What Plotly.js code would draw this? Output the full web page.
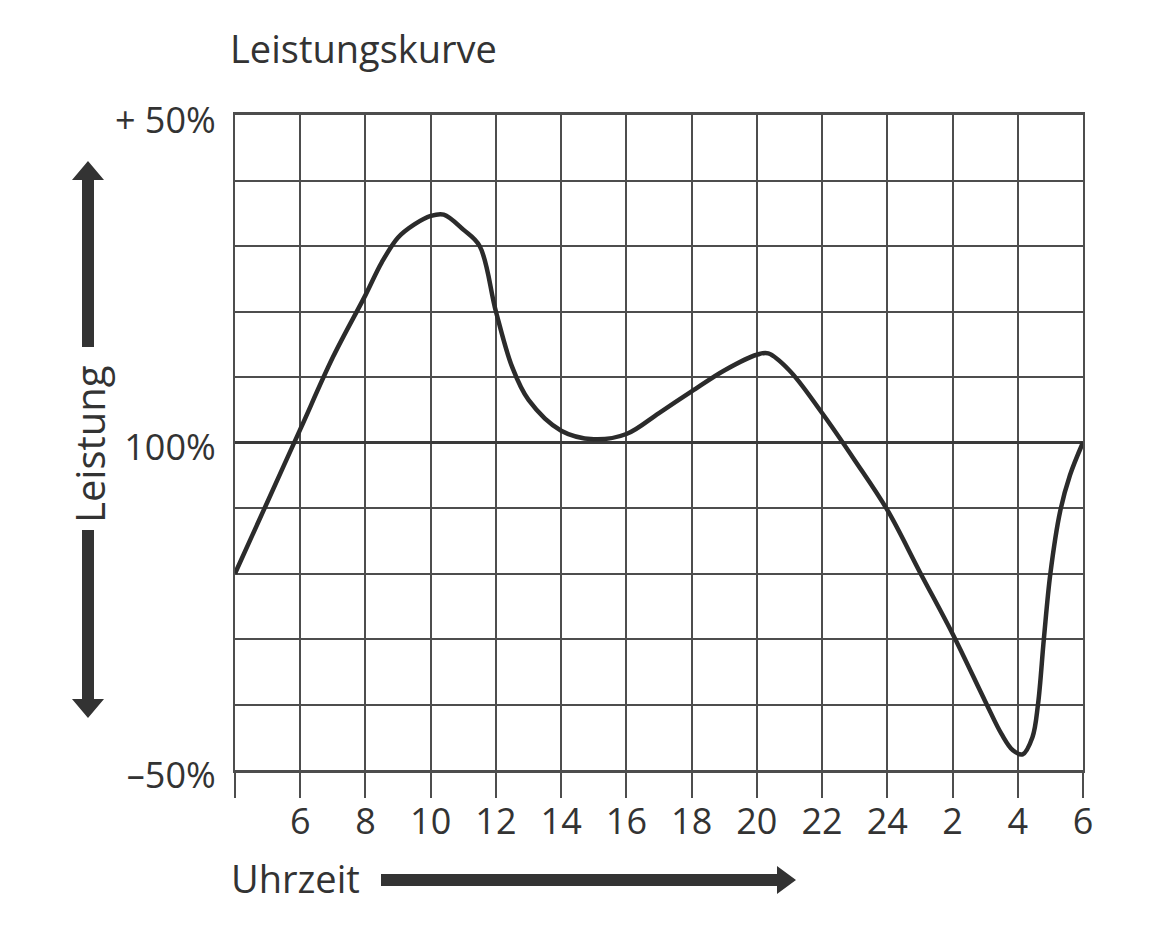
<!DOCTYPE html>
<html><head><meta charset="utf-8">
<script src="https://cdn.plot.ly/plotly-3.0.1.min.js"></script>
<style>html,body{margin:0;padding:0;background:#fff}</style>
</head><body><div id="chart" style="width:1150px;height:933px"></div>
<script>
// Uhrzeit (Stunden, fortlaufend ab 4 Uhr; Werte über 24 = nächster Tag)
const hours = [4, 5, 6, 7, 8, 8.5, 9, 9.5, 10, 10.4, 11, 11.5, 12, 12.5, 13, 14, 15, 16, 17, 18, 19, 20, 20.35, 21, 22, 23, 24, 25, 26, 27, 27.5, 27.85, 28.15, 28.45, 28.62, 28.8, 29, 29.3, 29.6, 30];
// Leistung relativ zu 100 % (Prozentpunkte)
const leistung = [-20, -9, 2, 13, 22.5, 27.5, 31.3, 33.3, 34.6, 34.8, 32.5, 30, 20, 11.5, 6.5, 1.8, 0.5, 1.3, 4.5, 7.8, 11, 13.4, 13.6, 11, 4.5, -2.7, -10.3, -19.8, -29.2, -39.5, -44.5, -47, -47.6, -45, -40, -30, -20, -10.5, -5, 0];

const xTickVals = [4, 6, 8, 10, 12, 14, 16, 18, 20, 22, 24, 26, 28, 30];
const xTickText = ['', '6', '8', '10', '12', '14', '16', '18', '20', '22', '24', '2', '4', '6'];
const yTickVals = [-50, -40, -30, -20, -10, 0, 10, 20, 30, 40, 50];
const yTickText = ['–50%', '', '', '', '', '100%', '', '', '', '', '+ 50%'];

const FONT = '"Open Sans", Lato, sans-serif';
const INK = '#333333';
const GRID = '#4d4d4d';

// plot area in pixels
const L = 235, R = 1083, T = 115, B = 770;
const px = x => (x - L) / (R - L);
const py = y => (B - y) / (B - T);
const path = pts => pts.map((p, i) => (i ? 'L' : 'M') + px(p[0]).toFixed(5) + ',' + py(p[1]).toFixed(5)).join(' ') + ' Z';

const arrowUp = [[88,161],[104,180],[94,180],[94,347],[82,347],[82,180],[72,180]];
const arrowDown = [[82,530],[94,530],[94,699],[104,699],[88,718],[72,699],[82,699]];
const arrowRight = [[381,874],[777,874],[777,866],[796,880],[777,894],[777,886],[381,886]];

const trace = {
  x: hours, y: leistung, type: 'scatter', mode: 'lines',
  line: {color: '#2b2b2b', width: 4.5, shape: 'spline', smoothing: 1},
  hoverinfo: 'x+y'
};

const layout = {
  width: 1150, height: 933,
  margin: {l: L, r: 1150 - R, t: T, b: 933 - B},
  paper_bgcolor: '#ffffff', plot_bgcolor: '#ffffff',
  showlegend: false,
  title: {
    text: 'Leistungskurve',
    font: {family: FONT, size: 38, color: INK},
    xref: 'container', yref: 'container',
    x: 230 / 1150, xanchor: 'left',
    y: 1 - 50 / 933, yanchor: 'middle'
  },
  xaxis: {
    range: [4, 30], tickmode: 'array', tickvals: xTickVals, ticktext: xTickText,
    showgrid: true, gridcolor: GRID, gridwidth: 1.8,
    zeroline: false,
    showline: true, mirror: true, linecolor: GRID, linewidth: 3,
    ticks: 'outside', ticklen: 25, tickwidth: 1.8, tickcolor: GRID,
    ticklabelstandoff: -7,
    tickfont: {family: FONT, size: 36, color: INK},
    fixedrange: true
  },
  yaxis: {
    range: [-50, 50], tickmode: 'array', tickvals: yTickVals, ticktext: yTickText,
    showgrid: true, gridcolor: GRID, gridwidth: 1.8,
    zeroline: true, zerolinecolor: '#3a3a3a', zerolinewidth: 3,
    showline: true, mirror: true, linecolor: GRID, linewidth: 2,
    ticks: '', ticklabelstandoff: 10, ticklabelshift: 5,
    tickfont: {family: FONT, size: 36, color: INK},
    fixedrange: true
  },
  shapes: [
    {type: 'path', xref: 'paper', yref: 'paper', path: path(arrowUp), fillcolor: INK, line: {width: 0}},
    {type: 'path', xref: 'paper', yref: 'paper', path: path(arrowDown), fillcolor: INK, line: {width: 0}},
    {type: 'path', xref: 'paper', yref: 'paper', path: path(arrowRight), fillcolor: INK, line: {width: 0}}
  ],
  annotations: [
    {text: 'Leistung', xref: 'paper', yref: 'paper', x: px(89), y: py(444), xanchor: 'center', yanchor: 'middle',
     textangle: -90, showarrow: false, font: {family: FONT, size: 40, color: INK}},
    {text: 'Uhrzeit', xref: 'paper', yref: 'paper', x: px(229), y: py(878), xanchor: 'left', yanchor: 'middle',
     showarrow: false, font: {family: FONT, size: 38, color: INK}}
  ]
};

Plotly.newPlot('chart', [trace], layout, {displayModeBar: false});
</script>
</body></html>
